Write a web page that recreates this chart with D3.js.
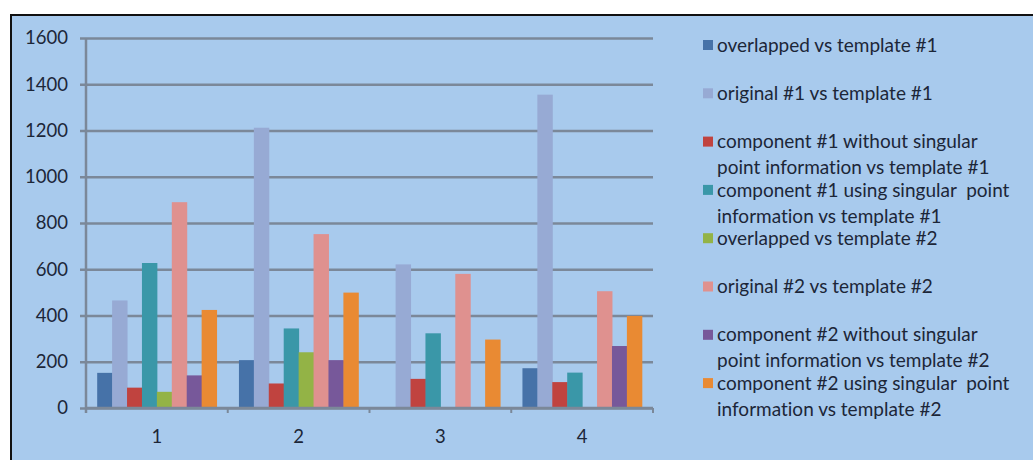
<!DOCTYPE html>
<html>
<head>
<meta charset="utf-8">
<script src="https://cdn.jsdelivr.net/npm/d3@7"></script>
<style>
  body { margin: 0; background: #fff; }
  svg { display: block; }
  text { font-family: Lato, "Open Sans", sans-serif; fill: #1c2638; font-variant-ligatures: none; }
</style>
</head>
<body>
<div id="chart"></div>
<script>
// categories on the x axis
var categories = ["1", "2", "3", "4"];

// legend names (\n marks where the legend wraps)
var seriesNames = [
  "overlapped vs template #1",
  "original #1 vs template #1",
  "component #1 without singular\npoint information vs template #1",
  "component #1 using singular  point\ninformation vs template #1",
  "overlapped vs template #2",
  "original #2 vs template #2",
  "component #2 without singular\npoint information vs template #2",
  "component #2 using singular  point\ninformation vs template #2"
];

var seriesColors = ["#4672a8", "#97aad4", "#c0433f", "#3a97a8", "#93b346", "#df918f", "#77589a", "#e98a33"];

// one array per series, one value per category
var overlapped1 = [152, 207, 0, 172];
var original1 = [465, 1212, 621, 1355];
var comp1Without = [88, 106, 126, 112];
var comp1Using = [627, 344, 323, 153];
var overlapped2 = [70, 241, 0, 0];
var original2 = [890, 752, 580, 505];
var comp2Without = [141, 207, 0, 268];
var comp2Using = [424, 499, 296, 398];

var seriesValues = [overlapped1, original1, comp1Without, comp1Using,
                    overlapped2, original2, comp2Without, comp2Using];

var yTicks = [0, 200, 400, 600, 800, 1000, 1200, 1400, 1600];

var w = 1033, h = 460;
var svg = d3.select('#chart').append('svg')
  .attr('width', w)
  .attr('height', h);

// background panel with dark frame on top and left
svg.append('rect')
  .attr('x', 10).attr('y', 14)
  .attr('width', w - 10).attr('height', h - 14)
  .attr('fill', '#a8caed');
svg.append('path')
  .attr('d', 'M11,' + h + 'V15H' + w)
  .attr('fill', 'none')
  .attr('stroke', '#111')
  .attr('stroke-width', 2);

var plotL = 86, plotR = 653, plotT = 38, plotB = 408;

var y = d3.scaleLinear().domain([0, 1600]).range([plotB, plotT]);
var x0 = d3.scaleBand().domain(categories).range([plotL, plotR]);
var x1 = d3.scaleBand().domain(d3.range(seriesNames.length))
  .range([0, x0.bandwidth()])
  .paddingInner(0).paddingOuter(0.75);

var gridColor = '#7b8899';

// horizontal gridlines (with left tick stubs)
svg.append('g')
  .attr('transform', 'translate(' + plotL + ',0)')
  .call(d3.axisLeft(y).tickValues(yTicks).tickSize(-(plotR - plotL)).tickFormat(''))
  .call(function(g){
    g.select('.domain').remove();
    g.selectAll('line').attr('stroke', gridColor).attr('stroke-width', 2.5).attr('x1', -6);
  });

// y labels
svg.selectAll('.ylab')
  .data(yTicks)
  .enter().append('text')
  .attr('class', 'ylab')
  .attr('x', 68)
  .attr('y', function(d){ return y(d); })
  .attr('dy', '0.35em')
  .attr('text-anchor', 'end')
  .style('font-size', '18.5px')
  .text(function(d){ return d; });

// bars
var groups = svg.selectAll('.series')
  .data(seriesValues)
  .enter().append('g')
  .attr('class', 'series')
  .attr('fill', function(d, i){ return seriesColors[i]; });

groups.each(function(vals, si){
  d3.select(this).selectAll('rect')
    .data(vals)
    .enter().append('rect')
    .attr('x', function(d, ci){ return x0(categories[ci]) + x1(si); })
    .attr('width', x1.bandwidth() + 0.5)
    .attr('y', function(d){ return y(d); })
    .attr('height', function(d){ return plotB - y(d); });
});

// y axis line
svg.append('line')
  .attr('x1', plotL).attr('x2', plotL)
  .attr('y1', plotT).attr('y2', plotB + 5)
  .attr('stroke', gridColor).attr('stroke-width', 2.5);

// x axis line and category boundary ticks
svg.append('line')
  .attr('x1', plotL).attr('x2', plotR)
  .attr('y1', plotB).attr('y2', plotB)
  .attr('stroke', gridColor).attr('stroke-width', 2.5);
svg.selectAll('.xtick')
  .data(categories.concat(['end']))
  .enter().append('line')
  .attr('class', 'xtick')
  .attr('x1', function(d, i){ return plotL + i * x0.step(); })
  .attr('x2', function(d, i){ return plotL + i * x0.step(); })
  .attr('y1', plotB).attr('y2', plotB + 5)
  .attr('stroke', gridColor).attr('stroke-width', 2);

svg.selectAll('.xlab')
  .data(categories)
  .enter().append('text')
  .attr('class', 'xlab')
  .attr('x', function(d){ return x0(d) + x0.bandwidth() / 2; })
  .attr('y', 437)
  .attr('dy', '0.35em')
  .attr('text-anchor', 'middle')
  .style('font-size', '18.5px')
  .text(function(d){ return d; });

// legend
var legend = svg.selectAll('.leg')
  .data(seriesNames)
  .enter().append('g')
  .attr('class', 'leg')
  .attr('transform', function(d, i){ return 'translate(703,' + (45 + 48.3 * i) + ')'; });

legend.append('rect')
  .attr('x', 0).attr('y', -5)
  .attr('width', 10).attr('height', 10)
  .attr('fill', function(d, i){ return seriesColors[i]; });

legend.append('text')
  .attr('x', 14)
  .style('font-size', '19px')
  .style('white-space', 'pre')
  .each(function(d){
    var t = d3.select(this);
    d.split('\n').forEach(function(line, li){
      t.append('tspan')
        .attr('x', 14)
        .attr('y', li * 26)
        .attr('dy', '0.35em')
        .text(line);
    });
  });
</script>
</body>
</html>
